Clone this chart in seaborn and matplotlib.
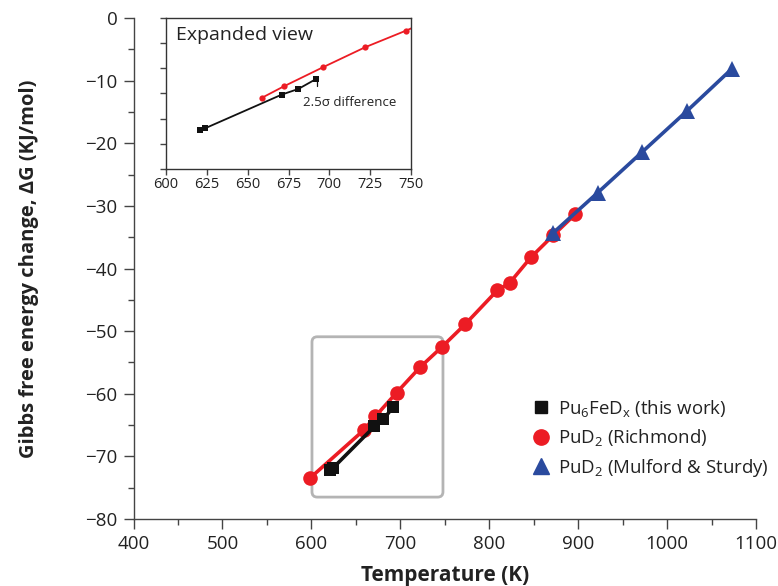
import numpy as np
import pandas as pd
import matplotlib
matplotlib.use("Agg")
import matplotlib.pyplot as plt
import seaborn as sns
from matplotlib.lines import Line2D
from matplotlib.patches import FancyBboxPatch
from matplotlib.ticker import MultipleLocator

# ---- data ----
pufed_T = [621, 624, 671, 681, 692]
pufed_G = [-72.2, -71.9, -65.2, -64.1, -62.1]

rich_T = [599, 659, 672, 696, 722, 747, 773, 809, 823, 847, 872, 897]
rich_G = [-73.4, -65.8, -63.6, -59.8, -55.8, -52.5, -48.9, -43.5, -42.3, -38.2, -34.7, -31.3]

mulf_T = [872, 922, 972, 1022, 1073]
mulf_G = [-34.3, -27.9, -21.4, -14.9, -8.1]

labels = [r"Pu$_6$FeD$_x$ (this work)", r"PuD$_2$ (Richmond)", r"PuD$_2$ (Mulford & Sturdy)"]

RED = "#ec1c24"
BLUE = "#2a4a9e"
BLACK = "#111111"

sns.set_style("ticks")
plt.rcParams["font.family"] = ["Open Sans", "DejaVu Sans"]
plt.rcParams["mathtext.fontset"] = "custom"
plt.rcParams["mathtext.rm"] = "Open Sans"
plt.rcParams["mathtext.it"] = "Open Sans"

fig = plt.figure(figsize=(7.78, 5.86), dpi=100)
ax = fig.add_axes([0.1716, 0.1143, 0.8001, 0.8550])

df_b = pd.DataFrame({"T": pufed_T, "G": pufed_G})
df_r = pd.DataFrame({"T": rich_T, "G": rich_G})
df_m = pd.DataFrame({"T": mulf_T, "G": mulf_G})

sns.lineplot(data=df_r, x="T", y="G", ax=ax, color=RED, lw=2.6, marker="o",
             markersize=10.5, markeredgewidth=0, sort=False, zorder=3)
sns.lineplot(data=df_b, x="T", y="G", ax=ax, color=BLACK, lw=2.6, marker="s",
             markersize=9, markeredgewidth=0, sort=False, zorder=4)
sns.lineplot(data=df_m, x="T", y="G", ax=ax, color=BLUE, lw=2.6, marker="^",
             markersize=11, markeredgewidth=0, sort=False, zorder=5)

ax.set_xlim(400, 1100)
ax.set_ylim(-80, 0)
ax.xaxis.set_major_locator(MultipleLocator(100))
ax.xaxis.set_minor_locator(MultipleLocator(50))
ax.yaxis.set_major_locator(MultipleLocator(10))
ax.yaxis.set_minor_locator(MultipleLocator(5))
ax.tick_params(which="major", length=7.5, width=1.0, color="#444444", labelsize=13.5,
               pad=4, labelcolor="#222222")
ax.tick_params(which="minor", length=4, width=1.0, color="#444444")
ax.set_yticklabels([("\u2212%d" % -v if v < 0 else "%d" % v) for v in ax.get_yticks()])
for s in ["top", "right"]:
    ax.spines[s].set_visible(False)
for s in ["left", "bottom"]:
    ax.spines[s].set_color("#444444")
    ax.spines[s].set_linewidth(1.0)
ax.set_xlabel("Temperature (K)", fontsize=15, fontweight="bold", labelpad=9, color="#222222")
ax.set_ylabel("Gibbs free energy change, \u0394G (KJ/mol)", fontsize=14.5, fontweight="bold",
              labelpad=33, color="#222222")

# highlight box
box = FancyBboxPatch((600.7, -76.5), 748 - 600.7, 25.6,
                     boxstyle="round,pad=0,rounding_size=6", mutation_aspect=0.142,
                     fill=False, ec="#b4b4b4", lw=2, zorder=2)
ax.add_patch(box)

# legend
handles = [Line2D([], [], ls="none", marker="s", color=BLACK, markersize=9),
           Line2D([], [], ls="none", marker="o", color=RED, markersize=11),
           Line2D([], [], ls="none", marker="^", color=BLUE, markersize=11)]
ax.legend(handles, labels, loc="lower right", bbox_to_anchor=(1.048, 0.047), frameon=False,
          fontsize=13.4, handletextpad=0.35, labelspacing=0.45, handlelength=1.2,
          labelcolor="#222222")

# inset
ins = fig.add_axes([0.2134, 0.7116, 0.3149, 0.2577])
sel_r = df_r[df_r["T"] >= 650]
sns.lineplot(data=sel_r, x="T", y="G", ax=ins, color=RED, lw=1.3, marker="o",
             markersize=4.5, markeredgewidth=0, sort=False)
sns.lineplot(data=df_b, x="T", y="G", ax=ins, color=BLACK, lw=1.3, marker="s",
             markersize=4.5, markeredgewidth=0, sort=False)
ins.set_xlim(600, 750)
ins.set_ylim(-80, -50)
ins.xaxis.set_major_locator(MultipleLocator(25))
ins.yaxis.set_major_locator(MultipleLocator(5))
ins.set_yticklabels([])
ins.set_xlabel("")
ins.set_ylabel("")
ins.tick_params(length=4, width=1.0, color="#444444", labelsize=10.5, pad=2,
                labelcolor="#222222")
for s in ins.spines.values():
    s.set_color("#333333")
    s.set_linewidth(1.0)
ins.text(0.04, 0.89, "Expanded view", transform=ins.transAxes, fontsize=14,
         va="center", ha="left", color="#222222")
ins.text(684, -66.8, "2.5\u03c3 difference", fontsize=9.5, va="center", ha="left", color="#222222")
ins.plot([692.5, 692.5], [-62.6, -63.6], color=BLACK, lw=0.9)

fig.savefig("out.png", dpi=100)
